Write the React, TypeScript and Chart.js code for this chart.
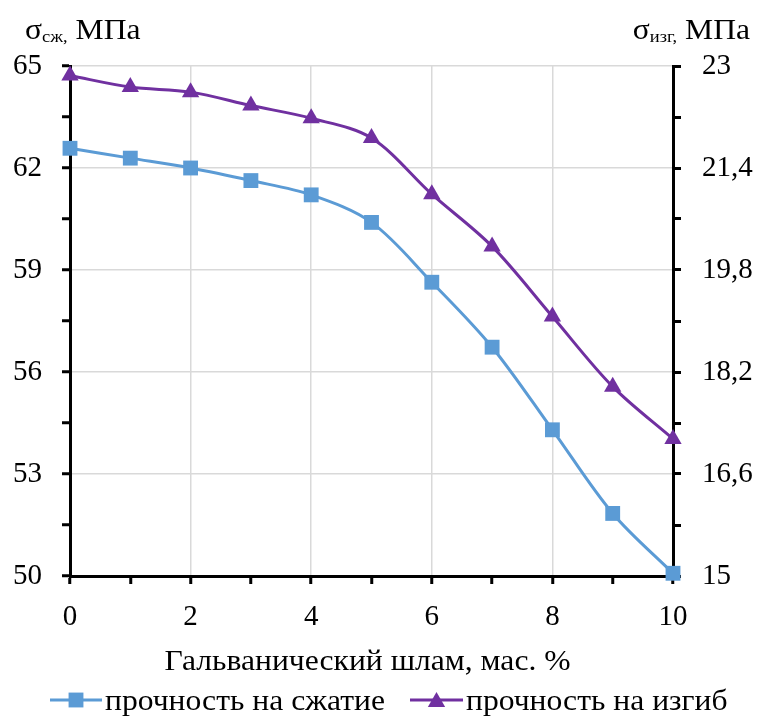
import React, { useEffect, useRef } from 'react';
import { Chart, registerables } from 'chart.js';

Chart.register(...registerables);

// ---- data ----
const slagPercent = [0, 1, 2, 3, 4, 5, 6, 7, 8, 9, 10];
const compressiveStrength = [62.58, 62.29, 62.0, 61.63, 61.21, 60.4, 58.64, 56.73, 54.3, 51.84, 50.08];
const bendingStrength = [22.85, 22.67, 22.59, 22.38, 22.18, 21.87, 20.99, 20.17, 19.07, 17.97, 17.15];

const xTickLabels = ['0', '2', '4', '6', '8', '10'];
const leftTickLabels = ['50', '53', '56', '59', '62', '65'];
const rightTickLabels = ['15', '16,6', '18,2', '19,8', '21,4', '23'];

const seriesNames = ['прочность на сжатие', 'прочность на изгиб'];
const xTitle = 'Гальванический шлам, мас. %';

// ---- styles ----
const W = 759;
const H = 716;
const FAMILY = '"Liberation Serif", "Times New Roman", serif';
const FS_TICK = 29;
const FS = 29;
const SX = 1.09;
const BLUE = '#5B9BD5';
const PURPLE = '#7030A0';
const GRID = '#d9d9d9';

function stretchedText(ctx: CanvasRenderingContext2D, text: string, x: number, y: number, font: string, align: 'left' | 'center' | 'right') {
  ctx.font = font;
  const w = ctx.measureText(text).width * SX;
  let sx = x;
  if (align === 'center') sx = x - w / 2;
  if (align === 'right') sx = x - w;
  ctx.save();
  ctx.textAlign = 'left';
  ctx.translate(sx, y);
  ctx.scale(SX, 1);
  ctx.fillText(text, 0, 0);
  ctx.restore();
  return w;
}

function measure(ctx: CanvasRenderingContext2D, text: string, font: string) {
  ctx.font = font;
  return ctx.measureText(text).width * SX;
}

function drawSubTitle(ctx: CanvasRenderingContext2D, x: number, y: number, main: string, sub: string, rest: string, align: 'left' | 'right') {
  const big = `${FS}px ${FAMILY}`;
  const small = `${Math.round(FS * 0.6)}px ${FAMILY}`;
  const w1 = measure(ctx, main, big);
  const w2 = measure(ctx, sub, small);
  const w3 = measure(ctx, rest, big);
  let sx = align === 'left' ? x : x - (w1 + w2 + w3);
  stretchedText(ctx, main, sx, y, big, 'left');
  sx += w1;
  stretchedText(ctx, sub, sx, y + 3, small, 'left');
  sx += w2;
  stretchedText(ctx, rest, sx, y, big, 'left');
}

function drawSquare(ctx: CanvasRenderingContext2D, cx: number, cy: number, r: number, color: string) {
  const s = Math.SQRT1_2 * r;
  ctx.fillStyle = color;
  ctx.fillRect(cx - s, cy - s, 2 * s, 2 * s);
}

function drawTriangle(ctx: CanvasRenderingContext2D, cx: number, cy: number, r: number, color: string) {
  ctx.fillStyle = color;
  ctx.beginPath();
  ctx.moveTo(cx, cy - r);
  ctx.lineTo(cx + Math.sin((2 * Math.PI) / 3) * r, cy + 0.5 * r);
  ctx.lineTo(cx - Math.sin((2 * Math.PI) / 3) * r, cy + 0.5 * r);
  ctx.closePath();
  ctx.fill();
}

const textPlugin = {
  id: 'extraTexts',
  afterDraw(chart: any) {
    const ctx: CanvasRenderingContext2D = chart.ctx;
    const ca = chart.chartArea;
    ctx.save();
    ctx.fillStyle = '#000';
    ctx.textBaseline = 'alphabetic';
    const big = `${FS}px ${FAMILY}`;

    // x axis title
    stretchedText(ctx, xTitle, (ca.left + ca.right) / 2 - 4, 670, big, 'center');

    // y axis titles
    drawSubTitle(ctx, 25, 39, 'σ', 'сж,', ' МПа', 'left');
    drawSubTitle(ctx, 750, 39, 'σ', 'изг,', ' МПа', 'right');

    // legend
    const ly = 700;
    const items = [
      { x0: 50, x1: 102, color: BLUE, shape: 'rect', text: seriesNames[0] },
      { x0: 410, x1: 463, color: PURPLE, shape: 'tri', text: seriesNames[1] },
    ];
    items.forEach((it) => {
      ctx.strokeStyle = it.color;
      ctx.lineWidth = 3;
      ctx.beginPath();
      ctx.moveTo(it.x0, ly);
      ctx.lineTo(it.x1, ly);
      ctx.stroke();
      const cx = (it.x0 + it.x1) / 2;
      if (it.shape === 'rect') drawSquare(ctx, cx, ly, 10.5, it.color);
      else drawTriangle(ctx, cx, ly + 2, 10, it.color);
      ctx.fillStyle = '#000';
      stretchedText(ctx, it.text, it.x1 + 3, 710, big, 'left');
    });
    ctx.restore();
  },
};

export default function App() {
  const ref = useRef<HTMLCanvasElement | null>(null);

  useEffect(() => {
    if (!ref.current) return;
    const font = { family: FAMILY, size: FS_TICK };
    const chart = new Chart(ref.current, {
      type: 'line',
      data: {
        datasets: [
          {
            label: seriesNames[0],
            data: slagPercent.map((x, i) => ({ x, y: compressiveStrength[i] })),
            yAxisID: 'y',
            borderColor: BLUE,
            backgroundColor: BLUE,
            borderWidth: 3,
            pointStyle: 'rect',
            pointRadius: 10.5,
            pointBorderWidth: 0,
            pointBackgroundColor: BLUE,
            tension: 0.33,
            clip: false as any,
          },
          {
            label: seriesNames[1],
            data: slagPercent.map((x, i) => ({ x, y: bendingStrength[i] })),
            yAxisID: 'y1',
            borderColor: PURPLE,
            backgroundColor: PURPLE,
            borderWidth: 3,
            pointStyle: 'triangle',
            pointRadius: 10,
            pointBorderWidth: 0,
            pointBackgroundColor: PURPLE,
            tension: 0.33,
            clip: false as any,
          },
        ],
      },
      options: {
        responsive: false,
        animation: false,
        devicePixelRatio: 1,
        layout: { padding: { top: 66, left: 0, right: 0, bottom: 0 } },
        plugins: { legend: { display: false }, tooltip: { enabled: false } },
        scales: {
          x: {
            type: 'linear',
            position: 'bottom',
            min: 0,
            max: 10,
            ticks: {
              stepSize: 1,
              autoSkip: false,
              maxRotation: 0,
              padding: 16,
              color: '#000',
              font,
              callback: (_v: any, i: number) => (i % 2 === 0 ? xTickLabels[i / 2] : ''),
            },
            grid: {
              color: (c: any) => (c.index % 2 === 0 ? GRID : 'rgba(0,0,0,0)'),
              lineWidth: 1.5,
              tickColor: '#000',
              tickLength: 8,
              tickWidth: 3,
            },
            border: { color: '#000', width: 3 },
            afterFit: (s: any) => {
              s.height = 140;
            },
          },
          y: {
            type: 'linear',
            position: 'left',
            min: 50,
            max: 65,
            ticks: {
              stepSize: 1.5,
              autoSkip: false,
              padding: 20,
              color: '#000',
              font,
              callback: (_v: any, i: number) => (i % 2 === 0 ? leftTickLabels[i / 2] : ''),
            },
            grid: {
              color: (c: any) => (c.index % 2 === 0 ? GRID : 'rgba(0,0,0,0)'),
              lineWidth: 1.5,
              tickColor: '#000',
              tickLength: 8,
              tickWidth: 3,
            },
            border: { color: '#000', width: 3 },
            afterFit: (s: any) => {
              s.width = 70;
            },
          },
          y1: {
            type: 'linear',
            position: 'right',
            min: 15,
            max: 23,
            ticks: {
              stepSize: 0.8,
              autoSkip: false,
              padding: 21,
              color: '#000',
              font,
              callback: (_v: any, i: number) => (i % 2 === 0 ? rightTickLabels[i / 2] : ''),
            },
            grid: {
              drawOnChartArea: false,
              tickColor: '#000',
              tickLength: 8,
              tickWidth: 3,
            },
            border: { color: '#000', width: 3 },
            afterFit: (s: any) => {
              s.width = 86;
            },
          },
        },
      } as any,
      plugins: [textPlugin],
    });
    return () => chart.destroy();
  }, []);

  return (
    <div style={{ position: 'fixed', left: 0, top: 0, width: W, height: H, background: '#fff' }}>
      <canvas ref={ref} width={W} height={H} style={{ display: 'block', width: W, height: H }} />
    </div>
  );
}
